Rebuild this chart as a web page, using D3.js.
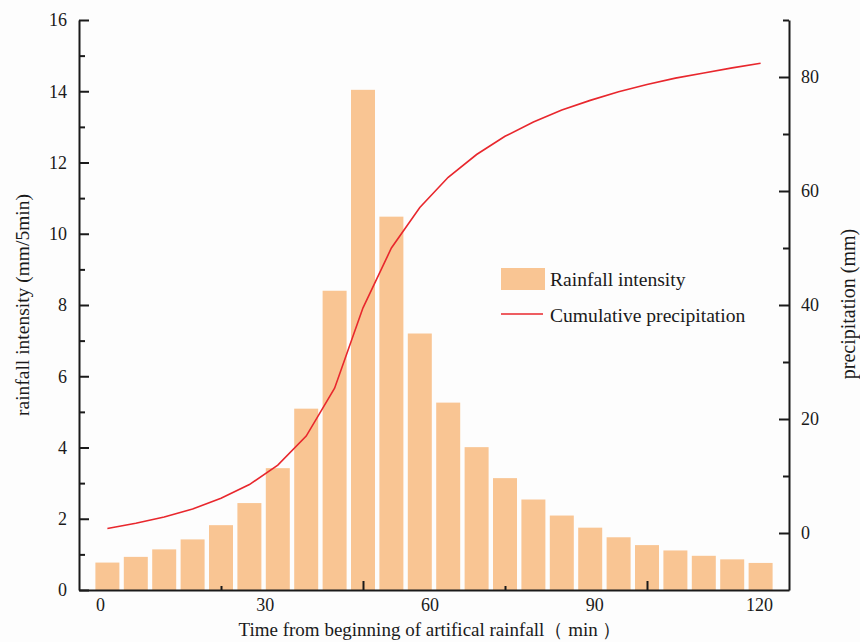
<!DOCTYPE html>
<html>
<head>
<meta charset="utf-8">
<script src="https://cdn.jsdelivr.net/npm/d3@7"></script>
<style>
  html, body { margin: 0; padding: 0; background: #fdfdfd; }
  svg { display: block; }
  text { font-family: "Liberation Serif", "Times New Roman", serif; fill: #1a1a1a; }
</style>
</head>
<body>
<svg id="chart" width="860" height="642"></svg>
<script>
// Rainfall intensity per 5-minute interval (mm/5min), intervals 0-5, 5-10, ... 115-120 min
const intervalStart = [0, 5, 10, 15, 20, 25, 30, 35, 40, 45, 50, 55,
                       60, 65, 70, 75, 80, 85, 90, 95, 100, 105, 110, 115];
const intensity = [0.77, 0.93, 1.14, 1.42, 1.82, 2.44, 3.42, 5.09, 8.40, 14.04, 10.48, 7.20,
                   5.26, 4.01, 3.14, 2.54, 2.09, 1.75, 1.48, 1.26, 1.11, 0.96, 0.86, 0.76];
// Cumulative precipitation (mm) at the middle of each interval
const cumulative = [0.8, 1.7, 2.8, 4.2, 6.1, 8.5, 11.9, 17.0, 25.4, 39.5, 50.0, 57.1,
                    62.4, 66.4, 69.6, 72.1, 74.2, 75.9, 77.4, 78.7, 79.8, 80.7, 81.6, 82.4];

// Axis ticks and labels
const xTickLabels = [0, 30, 60, 90, 120];
const xMajorMarks = [47.5, 97.5];
const xMinorMarks = [22.5, 72.5];
const leftMajor = [0, 2, 4, 6, 8, 10, 12, 14, 16];
const leftMinor = [1, 3, 5, 7, 9, 11, 13, 15];
const rightMajor = [0, 20, 40, 60, 80];
const rightMinor = [10, 30, 50, 70, 90];

const seriesNames = ["Rainfall intensity", "Cumulative precipitation"];
const xTitle = "Time from beginning of artifical rainfall（ min ）";
const yLeftTitle = "rainfall intensity (mm/5min)";
const yRightTitle = "precipitation (mm)";

const barColor = "#f9c593";
const lineColor = "#e8272d";
const axisColor = "#1a1a1a";

const plot = { left: 79, right: 789, top: 20, bottom: 590 };
const svg = d3.select("#chart");

const x = d3.scaleLinear().domain([-2.5, 122.5]).range([plot.left, plot.right]);
const xLabel = d3.scaleLinear().domain([0, 120]).range([100, 759]);
const yL = d3.scaleLinear().domain([0, 16]).range([plot.bottom, plot.top]);
const yR = d3.scaleLinear().domain([-10, 90]).range([plot.bottom, plot.top]);

const barInset = 2.2;

// Bars
svg.append("g")
  .selectAll("rect")
  .data(intervalStart)
  .join("rect")
  .attr("x", (d) => x(d) + barInset)
  .attr("width", (d) => x(d + 5) - x(d) - 2 * barInset)
  .attr("y", (d, i) => yL(intensity[i]))
  .attr("height", (d, i) => yL(0) - yL(intensity[i]))
  .attr("fill", barColor);

// Cumulative line
const line = d3.line()
  .x((d, i) => x(intervalStart[i] + 2.5))
  .y((d) => yR(d));
svg.append("path")
  .datum(cumulative)
  .attr("d", line)
  .attr("fill", "none")
  .attr("stroke", lineColor)
  .attr("stroke-width", 1.6);

function styleAxis(g) {
  g.select(".domain").attr("stroke", axisColor).attr("stroke-width", 2);
  g.selectAll(".tick line").attr("stroke", axisColor).attr("stroke-width", 2);
  g.selectAll(".tick text").attr("font-size", 18)
    .attr("font-family", '"Liberation Serif", "Times New Roman", serif').attr("fill", axisColor);
}

// Left axis
svg.append("g").attr("transform", `translate(${plot.left},0)`)
  .call(d3.axisLeft(yL).tickValues(leftMinor).tickSize(-6).tickFormat(""))
  .call(styleAxis)
  .call((g) => g.select(".domain").remove());
svg.append("g").attr("transform", `translate(${plot.left},0)`)
  .call(d3.axisLeft(yL).tickValues(leftMajor).tickSizeInner(-10).tickSizeOuter(0).tickPadding(12).tickFormat(d3.format("d")))
  .call(styleAxis);

// Right axis
svg.append("g").attr("transform", `translate(${plot.right},0)`)
  .call(d3.axisRight(yR).tickValues(rightMinor).tickSize(-6).tickFormat(""))
  .call(styleAxis)
  .call((g) => g.select(".domain").remove());
svg.append("g").attr("transform", `translate(${plot.right},0)`)
  .call(d3.axisRight(yR).tickValues(rightMajor).tickSizeInner(-10).tickSizeOuter(0).tickPadding(12).tickFormat(d3.format("d")))
  .call(styleAxis);

// Bottom axis: line and tick marks
svg.append("g").attr("transform", `translate(0,${plot.bottom})`)
  .call(d3.axisBottom(x).tickValues(xMinorMarks).tickSize(-4).tickFormat(""))
  .call(styleAxis)
  .call((g) => g.select(".domain").remove());
svg.append("g").attr("transform", `translate(0,${plot.bottom})`)
  .call(d3.axisBottom(x).tickValues(xMajorMarks).tickSizeInner(-9).tickSizeOuter(0).tickFormat(""))
  .call(styleAxis);
// Bottom axis labels
svg.append("g").attr("transform", `translate(0,${plot.bottom})`)
  .call(d3.axisBottom(xLabel).tickValues(xTickLabels).tickSize(0).tickPadding(8).tickFormat(d3.format("d")))
  .call(styleAxis)
  .call((g) => g.select(".domain").remove());

// Axis titles
svg.append("text")
  .attr("x", 430).attr("y", 636)
  .attr("text-anchor", "middle").attr("font-size", 19)
  .text(xTitle);
svg.append("text")
  .attr("transform", "translate(23,305) rotate(-90)")
  .attr("text-anchor", "middle").attr("dy", "0.32em").attr("font-size", 19.5)
  .text(yLeftTitle);
svg.append("text")
  .attr("transform", "translate(849,304) rotate(-90)")
  .attr("text-anchor", "middle").attr("dy", "0.32em").attr("font-size", 20)
  .text(yRightTitle);

// Legend
const legend = svg.append("g").attr("transform", "translate(501,268)");
legend.append("rect").attr("x", 0).attr("y", 0).attr("width", 44).attr("height", 22).attr("fill", barColor);
legend.append("text").attr("x", 49).attr("y", 11).attr("dy", "0.35em").attr("font-size", 19.6).text(seriesNames[0]);
legend.append("line").attr("x1", 0).attr("x2", 42).attr("y1", 46).attr("y2", 46)
  .attr("stroke", lineColor).attr("stroke-width", 1.6);
legend.append("text").attr("x", 49).attr("y", 47).attr("dy", "0.35em").attr("font-size", 19.6).text(seriesNames[1]);
</script>
</body>
</html>
